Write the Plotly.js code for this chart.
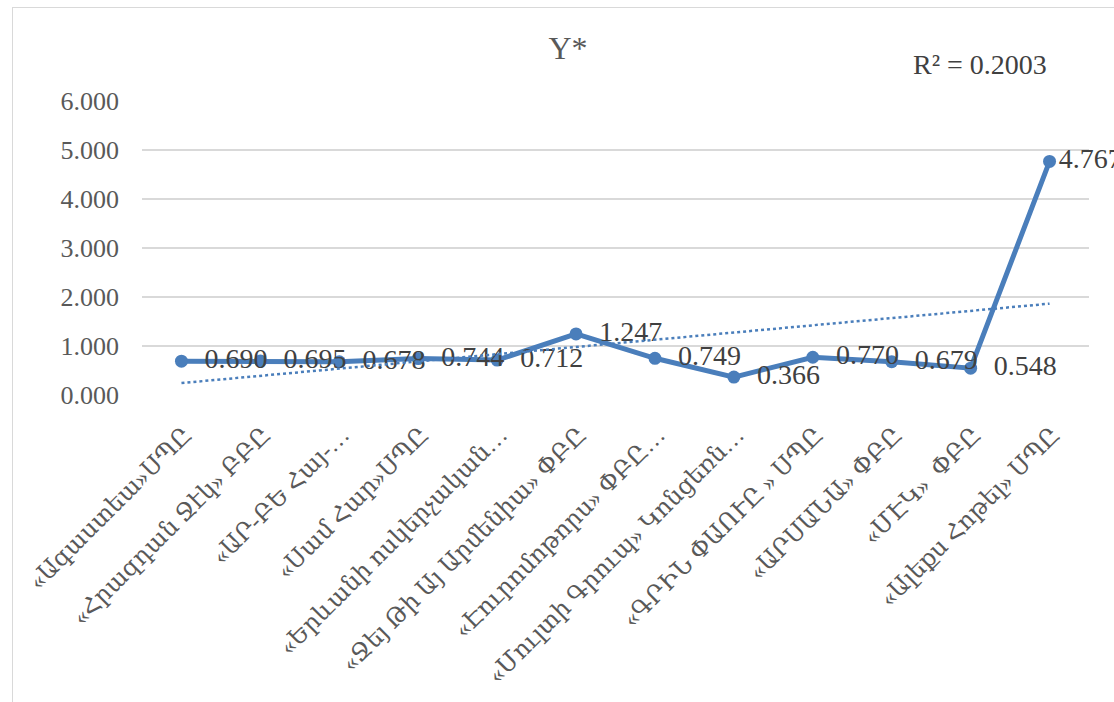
<!DOCTYPE html>
<html>
<head>
<meta charset="utf-8">
<script src="https://cdn.plot.ly/plotly-3.0.1.min.js"></script>
<style>
  html, body { margin: 0; padding: 0; background: #ffffff; overflow: hidden; }
  #frame { position: absolute; left: 12px; top: 7px; width: 1120px; height: 720px; border: 1px solid #d9d9d9; box-sizing: border-box; }
  #chart { position: absolute; left: 0; top: 0; width: 1114px; height: 702px; }
</style>
</head>
<body>
<div id="frame"></div>
<div id="chart"></div>
<script>
const categories = [
  "«Ագաստեա»ՍՊԸ",
  "«Հրազդան Ջէկ» ԲԲԸ",
  "«ԱՐ-ԲԵ Հայ-…",
  "«Սամ Հար»ՍՊԸ",
  "«Երևանի ոսկերչական…",
  "«Ջեյ Թի Այ Արմենիա» ՓԲԸ",
  "«Էուրոմոթորս» ՓԲԸ…",
  "«Մուլտի Գրուպ» Կոնցեռն…",
  "«ԳՐԻՆ ՓԱՈՒԸ » ՍՊԸ",
  "«ԱՐՍԱՆԱ» ՓԲԸ",
  "«ՄԷԿ»  ՓԲԸ",
  "«Ալեքս Հոթել» ՍՊԸ"
];
const values = [0.690, 0.695, 0.678, 0.744, 0.712, 1.247, 0.749, 0.366, 0.770, 0.679, 0.548, 4.767];
const valueLabels = ["0.690", "0.695", "0.678", "0.744", "0.712", "1.247", "0.749", "0.366", "0.770", "0.679", "0.548", "4.767"];
const trendCategories = [categories[0], categories[categories.length - 1]];
const trendValues = [0.244, 1.864];
const rSquaredText = "R² = 0.2003";
const chartTitle = "Y*";
const yTicks = [0, 1, 2, 3, 4, 5, 6];

const FONT = "Times New Roman, Liberation Serif, DejaVu Serif, serif";
const BLUE = "#4a7ebb";

// label padding: last label sits tight to its marker (as in the reference)
const labelTemplates = valueLabels.map((_, i) => (i === valueLabels.length - 1 ? "%{text}" : "  %{text}"));

const traces = [
  {
    x: categories,
    y: values,
    type: "scatter",
    mode: "lines+markers+text",
    line: { color: BLUE, width: 5 },
    marker: { color: BLUE, size: 13 },
    text: valueLabels,
    texttemplate: labelTemplates,
    textposition: "middle right",
    textfont: { family: FONT, size: 28, color: "#404040" },
    cliponaxis: false,
    showlegend: false
  },
  {
    x: trendCategories,
    y: trendValues,
    type: "scatter",
    mode: "lines",
    line: { color: BLUE, width: 2.5, dash: "dot" },
    hoverinfo: "skip",
    showlegend: false
  }
];

const layout = {
  width: 1114,
  height: 702,
  paper_bgcolor: "rgba(0,0,0,0)",
  plot_bgcolor: "rgba(0,0,0,0)",
  margin: { l: 142, r: 25, t: 101, b: 307 },
  title: {
    text: chartTitle,
    font: { family: FONT, size: 32, color: "#595959" },
    x: 568 / 1114,
    xref: "container",
    xanchor: "center",
    y: 1 - 48 / 702,
    yref: "container",
    yanchor: "middle"
  },
  xaxis: {
    type: "category",
    categoryorder: "array",
    categoryarray: categories,
    range: [-0.5, 11.5],
    tickangle: -45,
    tickfont: { family: FONT, size: 24, color: "#595959" },
    ticklabelshift: 3,
    ticklabelstandoff: 20,
    showgrid: false,
    showline: false,
    zeroline: false,
    ticks: ""
  },
  yaxis: {
    range: [0, 6],
    tickvals: yTicks,
    tickformat: ".3f",
    tickfont: { family: FONT, size: 26, color: "#595959" },
    gridcolor: "#d9d9d9",
    gridwidth: 1.5,
    zeroline: false,
    showline: false,
    ticks: "",
    ticklabelstandoff: 22
  },
  annotations: [
    {
      text: rSquaredText,
      xref: "paper",
      yref: "paper",
      x: 0.885,
      y: 1.123,
      xanchor: "center",
      yanchor: "middle",
      showarrow: false,
      font: { family: FONT, size: 28, color: "#404040" }
    }
  ],
  showlegend: false
};

Plotly.newPlot("chart", traces, layout, { displayModeBar: false, staticPlot: true });
</script>
</body>
</html>
